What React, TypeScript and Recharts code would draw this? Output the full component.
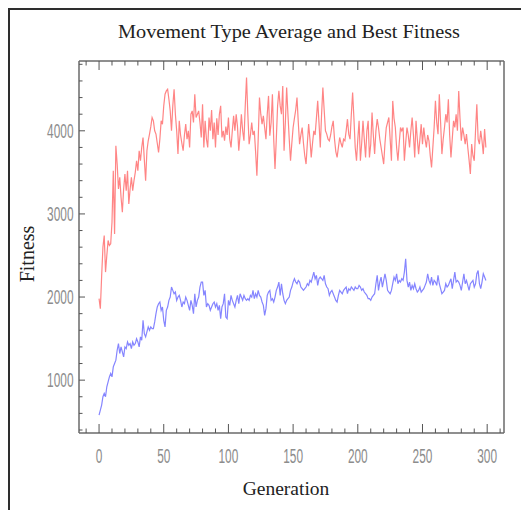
import React from "react";
import { LineChart, Line, XAxis, YAxis } from "recharts";

// Best fitness per generation (red)
const bestFitness: number[] = [
  1980, 1860, 2250, 2600, 2740, 2300, 2500, 2680, 2620, 2640,
  2900, 3520, 2760, 3820, 3600, 3300, 3440, 3200, 3020, 3300,
  3480, 3280, 3520, 3120, 3300, 3440, 3280, 3400, 3500, 3640,
  3520, 3760, 3640, 3800, 3920, 3650, 3400, 3760, 3880, 3960,
  4050, 4160, 4120, 4000, 3960, 3850, 3740, 3900, 4120, 4080,
  4300, 4440, 4480, 4500, 4380, 4240, 4000, 4300, 4500, 4200,
  4000, 3720, 4120, 3950, 3850, 3760, 3950, 4080, 3900, 4000,
  3800, 4200, 4240, 4100, 4440, 4160, 4200, 4240, 4100, 3920,
  4320, 3800, 4120, 3900, 3800, 4160, 4000, 4250, 3900, 4100,
  3800, 4150, 3950, 4200, 4300, 3920, 4000, 3880, 4050, 3950,
  4160, 3900, 3800, 4000, 4180, 4000, 4200, 4050, 3760, 3950,
  4200, 4000, 3880, 4300, 4640, 4200, 3840, 3950, 4100, 3950,
  4000, 3750, 3460, 3900, 4400, 4200, 4080, 4180, 4040, 3900,
  4200, 4420, 3940, 4100, 4440, 3900, 3540, 3900, 4300, 4480,
  4300, 4200, 4540, 3760, 4100, 4520, 4200, 3900, 3640, 3850,
  4040, 4150, 4250, 4400, 4100, 3840, 3950, 4040, 3850, 3700,
  3600, 3850, 4080, 3900, 3680, 3850, 4000, 3950, 4150, 4360,
  4100, 3800, 4200, 4520, 4250, 4000, 3960, 3900, 3880, 3950,
  4050, 4120, 3900, 3750, 3680, 3800, 3920, 3850, 3800, 3900,
  3880, 4000, 4140, 3960, 3900, 4200, 4460, 4150, 3800, 3640,
  3900, 4120, 3640, 3850, 4120, 3900, 3680, 4000, 4120, 3680,
  3840, 4220, 3950, 3720, 4000, 4140, 4040, 3900, 3800, 3700,
  3600, 3850, 4040, 4100, 4160, 3900, 3640, 4360, 4150, 4040,
  3800, 3640, 3850, 4040, 4000, 4040, 3640, 3850, 4040, 3950,
  3800, 4000, 4160, 3950, 3680, 4120, 3900, 3720, 3900, 4080,
  3840, 4040, 3900, 3800, 3950, 3880, 3700, 3560, 3800, 4040,
  4360, 4100, 3960, 4440, 4100, 3720, 3900, 4040, 4200, 4100,
  4380, 3950, 3680, 3900, 4120, 4040, 4200, 4000, 4480, 4150,
  3880, 4040, 3950, 3840, 3960, 3800, 3650, 3480, 3840, 3700,
  3640, 4000, 4320, 3900, 3840, 4000, 3880, 3720, 4020, 3800,
];

// Average fitness per generation (blue)
const averageFitness: number[] = [
  580, 640, 700, 800, 840, 800, 920, 980, 1040, 1080,
  1040, 1160, 1200, 1240, 1360, 1440, 1320, 1400, 1340, 1280,
  1400, 1380, 1460, 1420, 1440, 1380, 1460, 1420, 1440, 1500,
  1460, 1400, 1520, 1480, 1720, 1560, 1520, 1580, 1640, 1600,
  1640, 1620, 1620, 1700, 1800, 1880, 1920, 1940, 1840, 1880,
  1720, 1640, 1840, 1880, 1960, 2000, 2120, 2080, 2040, 2060,
  1960, 2000, 2020, 1960, 1880, 1940, 1920, 2000, 1960, 1900,
  1840, 1960, 1900, 1800, 2040, 1880, 1960, 2000, 2120, 2180,
  2180, 2020, 2080, 1880, 1920, 1900, 1840, 1880, 1920, 1940,
  1880, 1920, 1840, 1900, 1740, 1880, 1920, 2040, 1760, 1740,
  1960, 1900, 2020, 1960, 1920, 1880, 1960, 2020, 1920, 2040,
  2000, 1960, 2020, 1980, 1960, 1980, 1960, 2020, 2000, 2080,
  1980, 2040, 2000, 2080, 2020, 2000, 1940, 1900, 1780, 1860,
  2020, 2060, 2080, 1960, 1980, 1940, 2000, 2080, 2120, 2180,
  2020, 2160, 2040, 1960, 1920, 1960, 1980, 2000, 2080, 2120,
  2180, 2220, 2180, 2160, 2200, 2180, 2120, 2100, 2080, 2100,
  2120, 2160, 2140, 2200, 2180, 2240, 2300, 2220, 2260, 2140,
  2220, 2240, 2220, 2200, 2260, 2160, 2120, 2100, 2020, 2060,
  2080, 2040, 2000, 1960, 1940, 2020, 2080, 2060, 2040, 2080,
  2100, 2120, 2040, 2100, 2080, 2120, 2100, 2080, 2120, 2100,
  2100, 2140, 2120, 2080, 2100, 2060, 2040, 2020, 1980, 1980,
  1960, 2000, 2020, 2040, 2160, 2260, 2080, 2180, 2240, 2120,
  2200, 2280, 2200, 2080, 2060, 2040, 2080, 2160, 2240, 2200,
  2280, 2160, 2200, 2180, 2220, 2200, 2300, 2460, 2200, 2120,
  2180, 2080, 2140, 2100, 2160, 2100, 2060, 2080, 2120, 2060,
  2080, 2100, 2140, 2180, 2280, 2200, 2160, 2240, 2140, 2200,
  2180, 2140, 2260, 2160, 2100, 2040, 2060, 2080, 2160, 2120,
  2140, 2180, 2220, 2100, 2200, 2300, 2180, 2200, 2180, 2140,
  2080, 2180, 2280, 2160, 2200, 2140, 2080, 2160, 2180, 2200,
  2120, 2160, 2280, 2320, 2160, 2100, 2180, 2280, 2240, 2200,
];

const generations: number[] = bestFitness.map((_, i) => i);

// Tick values
const xTicks: number[] = [-10, 0, 10, 20, 30, 40, 50, 60, 70, 80, 90, 100, 110, 120, 130, 140, 150, 160, 170, 180, 190, 200, 210, 220, 230, 240, 250, 260, 270, 280, 290, 300, 310];
const xMajorLabels: number[] = [0, 50, 100, 150, 200, 250, 300];
const yTicks: number[] = [400, 600, 800, 1000, 1200, 1400, 1600, 1800, 2000, 2200, 2400, 2600, 2800, 3000, 3200, 3400, 3600, 3800, 4000, 4200, 4400, 4600, 4800];
const yMajorLabels: number[] = [1000, 2000, 3000, 4000];

const titleText = "Movement Type Average and Best Fitness";
const xLabel = "Generation";
const yLabel = "Fitness";

const data = generations.map((g, i) => ({
  gen: g,
  best: bestFitness[i],
  avg: averageFitness[i],
}));

const TICK_COLOR = "#555";
const LABEL_COLOR = "#8c8c8c";
const DIGIT_W = 6.6;

const BottomTick = (props: any) => {
  const { x, y, payload } = props;
  const v = payload.value;
  const major = v % 50 === 0;
  const s = String(v);
  return (
    <g>
      <line x1={x} y1={y} x2={x} y2={y - (major ? 9 : 4.5)} stroke={TICK_COLOR} strokeWidth={1} />
      {xMajorLabels.includes(v) && (
        <text
          x={x}
          y={y + 29.5}
          textAnchor="middle"
          fontFamily="Liberation Sans, Arial, sans-serif"
          fontSize={20}
          fill={LABEL_COLOR}
          textLength={s.length * DIGIT_W}
          lengthAdjust="spacingAndGlyphs"
        >
          {s}
        </text>
      )}
    </g>
  );
};

const TopTick = (props: any) => {
  const { x, y, payload } = props;
  const major = payload.value % 50 === 0;
  return <line x1={x} y1={y} x2={x} y2={y + (major ? 9 : 4.5)} stroke={TICK_COLOR} strokeWidth={1} />;
};

const LeftTick = (props: any) => {
  const { x, y, payload } = props;
  const v = payload.value;
  const major = v % 1000 === 0;
  const s = String(v);
  return (
    <g>
      <line x1={x} y1={y} x2={x + (major ? 6 : 3.5)} y2={y} stroke={TICK_COLOR} strokeWidth={1} />
      {yMajorLabels.includes(v) && (
        <text
          x={x - 5.5}
          y={y + 7}
          textAnchor="end"
          fontFamily="Liberation Sans, Arial, sans-serif"
          fontSize={20}
          fill={LABEL_COLOR}
          textLength={s.length * DIGIT_W}
          lengthAdjust="spacingAndGlyphs"
        >
          {s}
        </text>
      )}
    </g>
  );
};

const RightTick = (props: any) => {
  const { x, y, payload } = props;
  const major = payload.value % 1000 === 0;
  return <line x1={x} y1={y} x2={x - (major ? 6 : 3.5)} y2={y} stroke={TICK_COLOR} strokeWidth={1} />;
};

const axisLine = { stroke: "#6a6a6a", strokeWidth: 1.5 };

export default function App() {
  return (
    <div style={{ position: "absolute", left: 0, top: 0, width: 521, height: 510, background: "#fff", overflow: "hidden" }}>
      <div
        style={{
          position: "absolute",
          left: 8,
          top: 8,
          width: 520,
          height: 510,
          borderLeft: "2.5px solid #2e2e2e",
          borderTop: "2.5px solid #2e2e2e",
          boxSizing: "border-box",
        }}
      />
      <div style={{ position: "absolute", left: 0, top: 0 }}>
        <LineChart
          width={521}
          height={510}
          data={data}
          margin={{ top: 60, right: 16, bottom: 37, left: 19 }}
        >
          <XAxis
            xAxisId="bottom"
            dataKey="gen"
            type="number"
            domain={[-15.5, 313]}
            ticks={xTicks}
            interval={0}
            orientation="bottom"
            height={40}
            tickSize={0}
            tickMargin={0}
            tickLine={false}
            axisLine={axisLine}
            tick={<BottomTick />}
          />
          <XAxis
            xAxisId="top"
            dataKey="gen"
            type="number"
            domain={[-15.5, 313]}
            ticks={xTicks}
            interval={0}
            orientation="top"
            height={1}
            tickSize={0}
            tickMargin={0}
            tickLine={false}
            axisLine={axisLine}
            tick={<TopTick />}
          />
          <YAxis
            yAxisId="left"
            type="number"
            domain={[364, 4840]}
            ticks={yTicks}
            interval={0}
            orientation="left"
            width={60}
            tickSize={0}
            tickMargin={0}
            tickLine={false}
            axisLine={axisLine}
            tick={<LeftTick />}
          />
          <YAxis
            yAxisId="right"
            type="number"
            domain={[364, 4840]}
            ticks={yTicks}
            interval={0}
            orientation="right"
            width={1}
            tickSize={0}
            tickMargin={0}
            tickLine={false}
            axisLine={axisLine}
            tick={<RightTick />}
          />
          <Line
            xAxisId="bottom"
            yAxisId="left"
            type="linear"
            dataKey="best"
            stroke="#ff8585"
            strokeWidth={1.2}
            dot={false}
            isAnimationActive={false}
          />
          <Line
            xAxisId="bottom"
            yAxisId="left"
            type="linear"
            dataKey="avg"
            stroke="#8585ff"
            strokeWidth={1.2}
            dot={false}
            isAnimationActive={false}
          />
        </LineChart>
      </div>
      <svg width={521} height={510} style={{ position: "absolute", left: 0, top: 0, pointerEvents: "none" }}>
        <text
          x={289}
          y={38}
          textAnchor="middle"
          fontFamily="Liberation Serif, Times New Roman, serif"
          fontSize={19}
          fill="#222"
          textLength={342}
          lengthAdjust="spacingAndGlyphs"
        >
          {titleText}
        </text>
        <text
          x={286}
          y={495}
          textAnchor="middle"
          fontFamily="Liberation Serif, Times New Roman, serif"
          fontSize={19.5}
          fill="#222"
        >
          {xLabel}
        </text>
        <text
          transform="translate(34,254) rotate(-90)"
          textAnchor="middle"
          fontFamily="Liberation Serif, Times New Roman, serif"
          fontSize={20}
          fill="#222"
        >
          {yLabel}
        </text>
      </svg>
    </div>
  );
}
